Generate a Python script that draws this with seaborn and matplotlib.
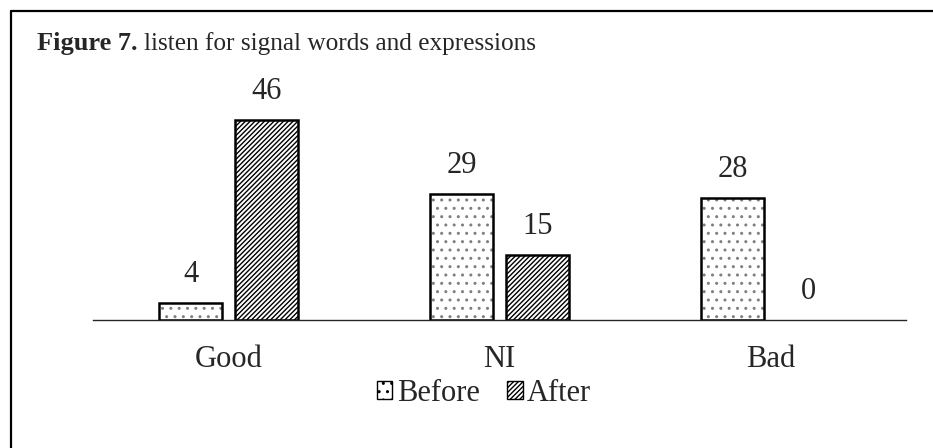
import seaborn as sns
import matplotlib.pyplot as plt
import pandas as pd
from matplotlib.patches import Patch
from matplotlib.lines import Line2D
from matplotlib.transforms import offset_copy

# --- data ---
categories = ["Good", "NI", "Bad"]
before = [4, 29, 28]
after = [46, 15, 0]
series = ["Before", "After"]

df = pd.DataFrame({
    "Category": categories * 2,
    "Count": before + after,
    "Period": ["Before"] * 3 + ["After"] * 3,
})

sns.set_style("white")
plt.rcParams["font.family"] = ["Liberation Serif", "DejaVu Serif"]
plt.rcParams["hatch.linewidth"] = 1.0

fig = plt.figure(figsize=(9.33, 4.48), dpi=100)
ax = fig.add_axes([0.0997, 0.2857, 0.8714, 0.4855])

sns.barplot(data=df, x="Category", y="Count", hue="Period", order=categories,
            hue_order=series, width=0.56, gap=0.18, palette=["white", "white"],
            edgecolor="black", linewidth=1.8, legend=False, ax=ax)

hatches = {"Before": "..", "After": "///////"}
for cont, name in zip(ax.containers, series):
    for bar in cont:
        bar.set_hatch(hatches[name])
        if bar.get_height() == 0:
            bar.set_linewidth(0)
    ax.bar_label(cont, padding=10, fontsize=22)

# lighter grey dots in the "Before" bars
for bar in ax.containers[0]:
    bar._hatch_color = (0.5, 0.5, 0.5, 1.0)

ax.set_xlim(-0.5, 2.5)
ax.set_ylim(0, 50)
ax.set_yticks([])
ax.set_xlabel("")
ax.set_ylabel("")
for s in ["left", "right", "top"]:
    ax.spines[s].set_visible(False)
ax.spines["bottom"].set_linewidth(1.0)
ax.tick_params(axis="x", length=0, labelsize=22, pad=18)

handles = [Patch(facecolor="white", edgecolor="black", hatch=hatches[s], label=s)
           for s in series]
fig.legend(handles=handles, loc="center", bbox_to_anchor=(0.519, 0.122), ncol=2,
           frameon=False, fontsize=22, handlelength=0.5, handleheight=0.5,
           handletextpad=0.15, columnspacing=0.9)

t1 = fig.text(0.040, 0.903, "Figure 7.", fontsize=19, fontweight="bold", va="center")
fig.canvas.draw()
w = t1.get_window_extent().width
fig.text(0.040, 0.903, "listen for signal words and expressions", fontsize=18.2,
         va="center", transform=offset_copy(fig.transFigure, fig=fig, x=w + 6, units="dots"))

# outer frame (top and left edges visible)
fig.add_artist(Line2D([0.012, 1.0], [0.975, 0.975], color="black", lw=1.6,
                      transform=fig.transFigure))
fig.add_artist(Line2D([0.012, 0.012], [0.0, 0.975], color="black", lw=1.6,
                      transform=fig.transFigure))

fig.savefig("out.png", dpi=100, facecolor="white")
